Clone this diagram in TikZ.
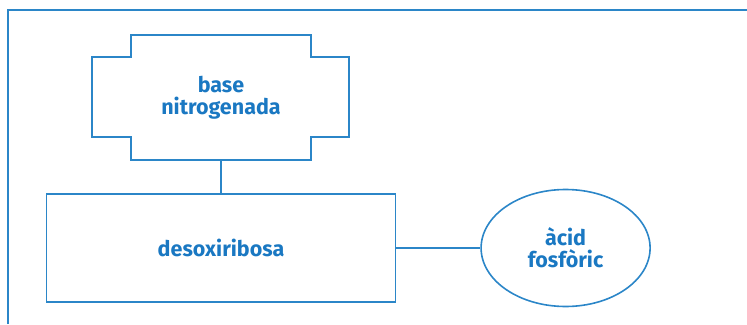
\documentclass[tikz,border=0pt]{standalone}
\usepackage{fontspec}
\setmainfont{Fira Sans}
\usetikzlibrary{positioning, shapes.geometric}

\definecolor{lineblue}{RGB}{43,134,200}
\definecolor{textblue}{RGB}{26,120,194}

\begin{document}
\begin{tikzpicture}[
    x=1pt, y=-1pt,
    node distance=33pt and 84pt,
    line/.style={draw=lineblue, line width=1.6pt},
    label/.style={align=center, text=textblue, font=\fontsize{21.5}{22}\selectfont\bfseries},
    box/.style={line, label, rectangle, inner sep=0pt, minimum width=349pt, minimum height=108pt},
    crossbox/.style={label, rectangle, inner sep=0pt, minimum width=180pt, minimum height=125pt},
    oval/.style={line, label, ellipse, inner sep=0pt, minimum width=169pt, minimum height=117pt}
]
\useasboundingbox (0,0) rectangle (747,324);

% frame
\draw[line] (8,324) -- (8,10) -- (747,10);

\node[crossbox] (base) at (221,97.5) {base\\nitrogenada};
\node[box, below=of base] (desox) {desoxiribosa};
\node[oval, right=of desox] (acid) {àcid\\fosfòric};

% outline of the base
\draw[line] (base.north west) -- (base.north east) -- ++(0,22) -- ++(38,0) -- ++(0,80)
    -- ++(-38,0) -- (base.south east) -- (base.south west) -- ++(0,-23) -- ++(-39,0)
    -- ++(0,-80) -- ++(39,0) -- cycle;

\draw[line] (base.south) -- (desox.north);
\draw[line] (desox) -- (acid);

\end{tikzpicture}
\end{document}
